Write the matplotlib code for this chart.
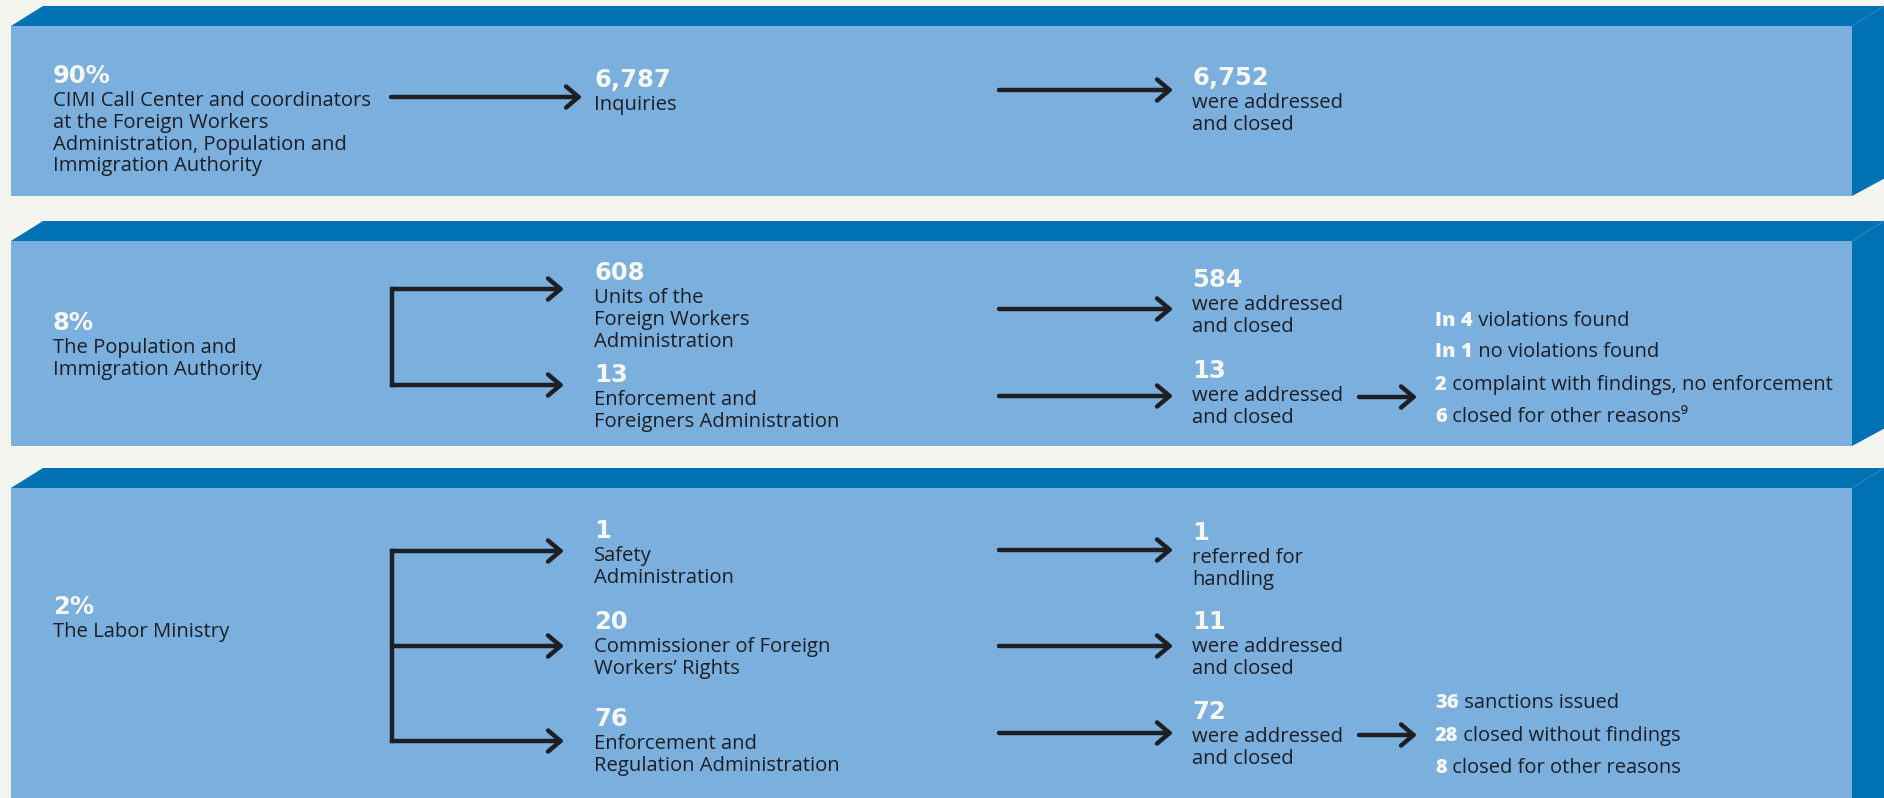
import matplotlib.pyplot as plt
from matplotlib.patches import Polygon

# ---- data ----
source_pct = ["90%", "8%", "2%"]
source_text = [
    ["CIMI Call Center and coordinators", "at the Foreign Workers",
     "Administration, Population and", "Immigration Authority"],
    ["The Population and", "Immigration Authority"],
    ["The Labor Ministry"],
]
channel_count = [["6,787"], ["608", "13"], ["1", "20", "76"]]
channel_text = [
    [["Inquiries"]],
    [["Units of the", "Foreign Workers", "Administration"],
     ["Enforcement and", "Foreigners Administration"]],
    [["Safety", "Administration"],
     ["Commissioner of Foreign", "Workers\u2019 Rights"],
     ["Enforcement and", "Regulation Administration"]],
]
result_count = [["6,752"], ["584", "13"], ["1", "11", "72"]]
result_text = [
    [["were addressed", "and closed"]],
    [["were addressed", "and closed"], ["were addressed", "and closed"]],
    [["referred for", "handling"], ["were addressed", "and closed"],
     ["were addressed", "and closed"]],
]
outcome_count = [[], ["In 4", "In 1", "2", "6"], ["36", "28", "8"]]
outcome_text = [
    [],
    ["violations found", "no violations found",
     "complaint with findings, no enforcement", "closed for other reasons\u2079"],
    ["sanctions issued", "closed without findings", "closed for other reasons"],
]

# ---- layout (pixels) ----
panel_top = [26, 241, 488]
panel_bot = [196, 446, 820]
depth = 20
src_y = [83, 330, 614]
chan_y = [[87], [280, 382], [538, 629, 726]]
res_y = [[85], [287, 378], [540, 629, 719]]
brk_y = [[97], [289, 385], [551, 646, 741]]
arr_y = [[90], [309, 396], [550, 646, 733]]
out_y = [[], [326, 357, 390, 422], [708, 741, 773]]
small_arr_y = [None, 397, 735]

bg = "#F3F5EE"
dark = "#0071B2"
light = "#7AAFDE"
ink = "#1E1F24"
white = "#F6F7F1"
num_font = dict(family="DejaVu Sans", fontweight="bold", fontsize=17.5, color=white)
body_font = dict(family=["Open Sans", "DejaVu Sans"], fontsize=14.6, color=ink)

W, H = 1884, 798
fig = plt.figure(figsize=(W / 100, H / 100), dpi=100, facecolor=bg)
ax = fig.add_axes([0, 0, 1, 1])
ax.set_xlim(0, W)
ax.set_ylim(H, 0)
ax.axis("off")


def arrow(x0, x1, y, ms=20):
    ax.annotate("", xy=(x1, y), xytext=(x0, y),
                arrowprops=dict(arrowstyle="->,head_length=0.45,head_width=0.38",
                                lw=3.2, color=ink, shrinkA=0, shrinkB=0,
                                mutation_scale=ms))


def block(x, y, number, lines):
    ax.text(x, y, number, va="baseline", ha="left", **num_font)
    for i, ln in enumerate(lines):
        ax.text(x, y + 23 + i * 21.8, ln, va="baseline", ha="left", **body_font)


for p in range(3):
    lt, bt = panel_top[p], panel_bot[p]
    # box: front face + top/right faces
    ax.add_patch(Polygon([(11, lt), (11 + 32, lt - depth), (W + 5, lt - depth),
                          (W + 5, bt - depth), (1852, bt), (1852, lt)],
                         closed=True, facecolor=dark, edgecolor="none"))
    ax.add_patch(Polygon([(11, lt), (1852, lt), (1852, bt), (11, bt)],
                         closed=True, facecolor=light, edgecolor="none"))
    ax.plot([1852, 1852 + 32], [lt, lt - depth], color="#2E86C4", lw=0.8)

    block(53, src_y[p], source_pct[p], source_text[p])

    # branching arrows
    ys = brk_y[p]
    if len(ys) == 1:
        arrow(391, 582, ys[0])
    else:
        ax.plot([392, 392], [ys[0], ys[-1]], color=ink, lw=3.2,
                solid_capstyle="projecting")
        for y in ys:
            arrow(392, 564, y)

    for k in range(len(channel_count[p])):
        block(594, chan_y[p][k], channel_count[p][k], channel_text[p][k])
        arrow(999, 1173, arr_y[p][k])
        block(1192, res_y[p][k], result_count[p][k], result_text[p][k])

    if small_arr_y[p] is not None:
        arrow(1359, 1417, small_arr_y[p])
        for k in range(len(outcome_count[p])):
            t = ax.text(1435, out_y[p][k], outcome_count[p][k], va="baseline",
                        ha="left", family="Open Sans", fontweight="heavy",
                        fontsize=14.5, color=white)
            ax.annotate(" " + outcome_text[p][k], xy=(1, 0), xycoords=t,
                        va="bottom", ha="left",
                        family=["Open Sans", "DejaVu Sans"], fontsize=14.5, color=ink)

fig.savefig("out.png", dpi=100, facecolor=bg)
